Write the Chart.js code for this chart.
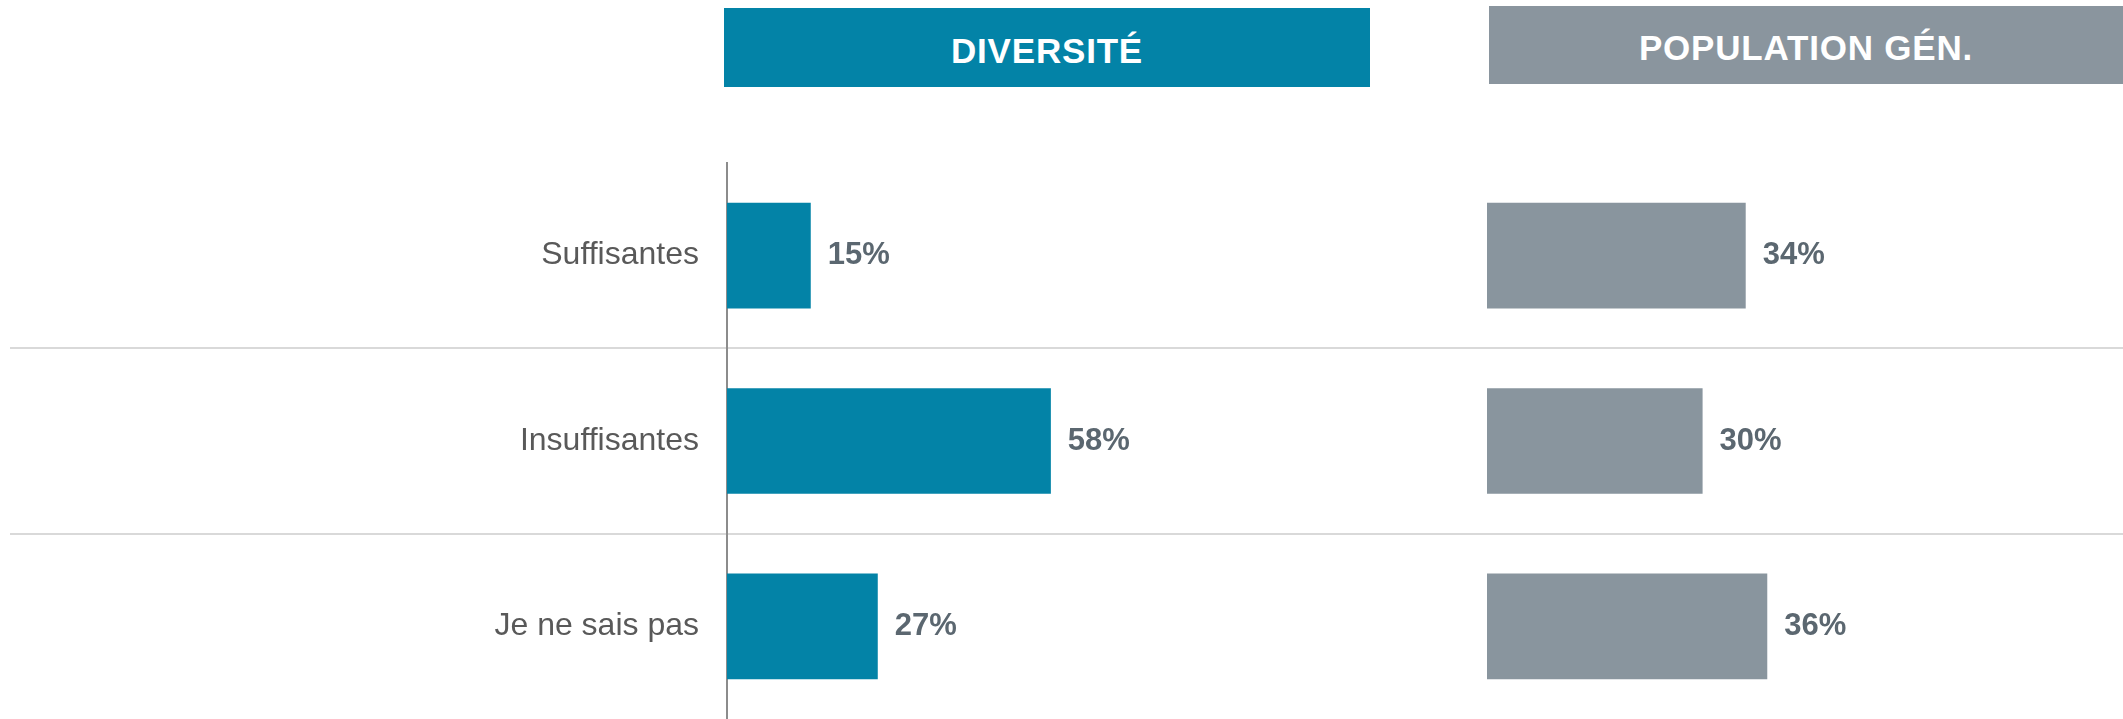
<!DOCTYPE html>
<html lang="fr">
<head>
<meta charset="utf-8">
<title>Diversité / Population générale</title>
<script src="https://cdn.jsdelivr.net/npm/chart.js@4.4.1/dist/chart.umd.min.js"></script>
<style>
  html, body { margin: 0; padding: 0; background: #fff; }
  #wrap { position: relative; width: 2123px; height: 719px; overflow: hidden; font-family: 'Liberation Sans', Arial, sans-serif; }
  .head { position: absolute; display: flex; align-items: center; justify-content: center; box-sizing: border-box; padding-top: 5px; color: #fff; font-weight: bold; font-size: 35px; letter-spacing: 0.8px; line-height: 1; }
  #headDiv { left: 724px; top: 8px; width: 646px; height: 79px; background: #0383a7; }
  #headPop { left: 1489px; top: 6px; width: 634px; height: 78px; background: #8a959e; }
  canvas { position: absolute; top: 0; }
  #divChart { left: 0; }
  #popChart { left: 1487px; }
</style>
</head>
<body>
<div id="wrap">
  <div class="head" id="headDiv"></div>
  <div class="head" id="headPop"></div>
  <canvas id="divChart" width="2123" height="719"></canvas>
  <canvas id="popChart" width="636" height="719"></canvas>
</div>
<script>
  const categories = ['Suffisantes', 'Insuffisantes', 'Je ne sais pas'];
  const panelTitles = ['DIVERSITÉ', 'POPULATION GÉN.'];
  const diversiteValues = [15, 58, 27];
  const populationValues = [34, 30, 36];

  const FONT = "'Liberation Sans', Arial, sans-serif";
  const TEAL = '#0383a7';
  const GREY = '#89959e';
  const LABEL_GAP = 17;

  Chart.defaults.font.family = FONT;

  document.getElementById('headDiv').textContent = panelTitles[0];
  document.getElementById('headPop').textContent = panelTitles[1];

  // draws "NN%" just past the end of each bar
  const valueLabels = {
    id: 'valueLabels',
    afterDatasetsDraw(chart) {
      const ctx = chart.ctx;
      const values = chart.data.datasets[0].data;
      const meta = chart.getDatasetMeta(0);
      ctx.save();
      ctx.font = 'bold 31px ' + FONT;
      ctx.fillStyle = '#5b6770';
      ctx.textAlign = 'left';
      ctx.textBaseline = 'middle';
      meta.data.forEach((bar, i) => {
        ctx.fillText(values[i] + '%', bar.x + LABEL_GAP, bar.y);
      });
      ctx.restore();
    }
  };

  // left panel: category labels, separators, axis line and teal bars
  new Chart(document.getElementById('divChart'), {
    type: 'bar',
    data: {
      labels: categories,
      datasets: [{
        data: diversiteValues,
        backgroundColor: TEAL,
        categoryPercentage: 1,
        barPercentage: 0.57
      }]
    },
    options: {
      indexAxis: 'y',
      responsive: false,
      animation: false,
      layout: { padding: { top: 163, right: 0, bottom: 0, left: 0 } },
      plugins: {
        legend: { display: false },
        tooltip: { enabled: false }
      },
      scales: {
        x: { display: false, min: 0, max: 250 },
        y: {
          afterFit(scale) { scale.width = 727; },
          border: { display: true, color: '#8c8c8c', width: 2 },
          grid: {
            color: (c) => (c.tick && c.index > 0) ? '#d9d9d9' : 'rgba(0,0,0,0)',
            lineWidth: 2,
            tickLength: 717
          },
          ticks: {
            padding: -689,
            color: '#595959',
            font: { size: 32 }
          }
        }
      }
    },
    plugins: [valueLabels]
  });

  // right panel: grey bars, drawn over the same rows
  new Chart(document.getElementById('popChart'), {
    type: 'bar',
    data: {
      labels: categories,
      datasets: [{
        data: populationValues,
        backgroundColor: GREY,
        categoryPercentage: 1,
        barPercentage: 0.57
      }]
    },
    options: {
      indexAxis: 'y',
      responsive: false,
      animation: false,
      layout: { padding: { top: 163, right: 0, bottom: 0, left: 0 } },
      plugins: {
        legend: { display: false },
        tooltip: { enabled: false }
      },
      scales: {
        x: { display: false, min: 10, max: 69 },
        y: { display: false }
      }
    },
    plugins: [valueLabels]
  });
</script>
</body>
</html>
